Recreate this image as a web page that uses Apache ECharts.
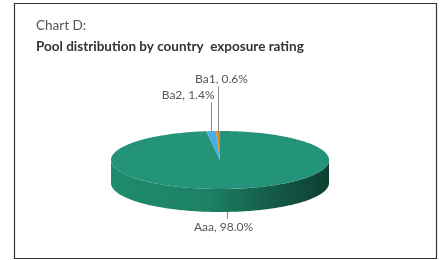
<!DOCTYPE html>
<html>
<head>
<meta charset="utf-8">
<script src="https://cdn.jsdelivr.net/npm/echarts@6/dist/echarts.min.js"></script>
<style>
html,body{margin:0;padding:0;background:#fff}
#chart{width:441px;height:260px}
</style>
</head>
<body>
<div id="chart"></div>
<script>
// 数据
var ratings = ['Aaa', 'Ba2', 'Ba1'];
var shares = [98.0, 1.4, 0.6];
var sliceColors = ['#239479', '#4aaee6', '#d98b2b'];

// 椭圆饼的位置和厚度
var pie = {cx: 220, cy: 160, rx: 109, ry: 29, depth: 23};
var total = shares.reduce(function (a, b) { return a + b; }, 0);
var font = 'Lato, "Open Sans", sans-serif';

function pt(a, dy) {
    return [pie.cx + pie.rx * Math.cos(a), pie.cy + pie.ry * Math.sin(a) + (dy || 0)];
}
function startAngle(idx) {
    var s = 0;
    for (var i = 0; i < idx; i++) s += shares[i];
    return -Math.PI / 2 + s / total * 2 * Math.PI;
}

function renderSlice(params, api) {
    var idx = params.dataIndex;
    var a0 = startAngle(idx);
    var a1 = a0 + api.value(1) / total * 2 * Math.PI;
    var children = [];
    //顶面
    var top = [[pie.cx, pie.cy]];
    var n = Math.max(2, Math.ceil((a1 - a0) / 0.02));
    for (var i = 0; i <= n; i++) top.push(pt(a0 + (a1 - a0) * i / n));
    children.push({type: 'polygon', shape: {points: top}, style: {fill: sliceColors[idx]}, z2: 10});
    //侧面(只画前半圈)
    var s0 = Math.max(a0, 0), s1 = Math.min(a1, Math.PI);
    if (s1 > s0) {
        var side = [];
        var m = Math.ceil((s1 - s0) / 0.02);
        for (var j = 0; j <= m; j++) side.push(pt(s0 + (s1 - s0) * j / m));
        for (var k = m; k >= 0; k--) side.push(pt(s0 + (s1 - s0) * k / m, pie.depth));
        children.push({
            type: 'polygon', shape: {points: side}, z2: 5,
            style: {fill: {
                type: 'linear', global: true,
                x: pie.cx - pie.rx, y: 0, x2: pie.cx + pie.rx, y2: 0,
                colorStops: [
                    {offset: 0, color: '#1f8b6d'},
                    {offset: 0.45, color: '#1d8165'},
                    {offset: 0.55, color: '#1a7259'},
                    {offset: 0.8, color: '#135443'},
                    {offset: 1, color: '#0d3f31'}
                ]
            }}
        });
    }
    //标签和引导线
    var mid = (a0 + a1) / 2;
    var text = ratings[idx] + ', ' + api.value(1).toFixed(1) + '%';
    var lineStyle = {stroke: '#8a8a8a', lineWidth: 1};
    if (Math.sin(mid) < 0) {
        var backIdx = idx - 1;
        var p = pt(mid);
        var x = Math.round(p[0]) + 0.5;
        var yTop = p[1] - 29 - 16 * backIdx;
        children.push({type: 'line', shape: {x1: x, y1: p[1], x2: x, y2: yTop}, style: lineStyle, z2: 3});
        var last = idx === shares.length - 1;
        children.push({type: 'text', z2: 20, style: {
            text: text, x: x + 3, y: yTop - 1,
            align: last ? 'center' : 'right', verticalAlign: 'bottom',
            font: '12px ' + font, fill: '#555'
        }});
    } else {
        var q = pt(mid, pie.depth);
        var qx = Math.round(q[0]) + 0.5;
        children.push({type: 'line', shape: {x1: qx, y1: q[1], x2: qx, y2: q[1] + 7}, style: lineStyle, z2: 3});
        children.push({type: 'text', z2: 20, style: {
            text: text, x: qx - 4, y: q[1] + 9,
            align: 'center', verticalAlign: 'top',
            font: '12px ' + font, fill: '#555'
        }});
    }
    return {type: 'group', children: children};
}

var chart = echarts.init(document.getElementById('chart'));
var option = {
    backgroundColor: '#fff',
    animation: false,
    title: [
        {text: 'Chart D:', left: 31, top: 14,
            textStyle: {fontSize: 13.5, fontWeight: 'normal', color: '#555', fontFamily: font}},
        {text: 'Pool distribution by country  exposure rating', left: 31, top: 35,
            textStyle: {fontSize: 13.5, fontWeight: 'bold', color: '#333', fontFamily: font}}
    ],
    graphic: [{
        type: 'rect', shape: {x: 14.5, y: 3.5, width: 422, height: 255},
        style: {fill: 'none', stroke: '#333', lineWidth: 1.2}, silent: true
    }],
    series: [{
        type: 'custom',
        coordinateSystem: 'none',
        renderItem: renderSlice,
        data: shares.map(function (v, i) { return [i, v]; })
    }]
};
chart.setOption(option);
</script>
</body>
</html>
